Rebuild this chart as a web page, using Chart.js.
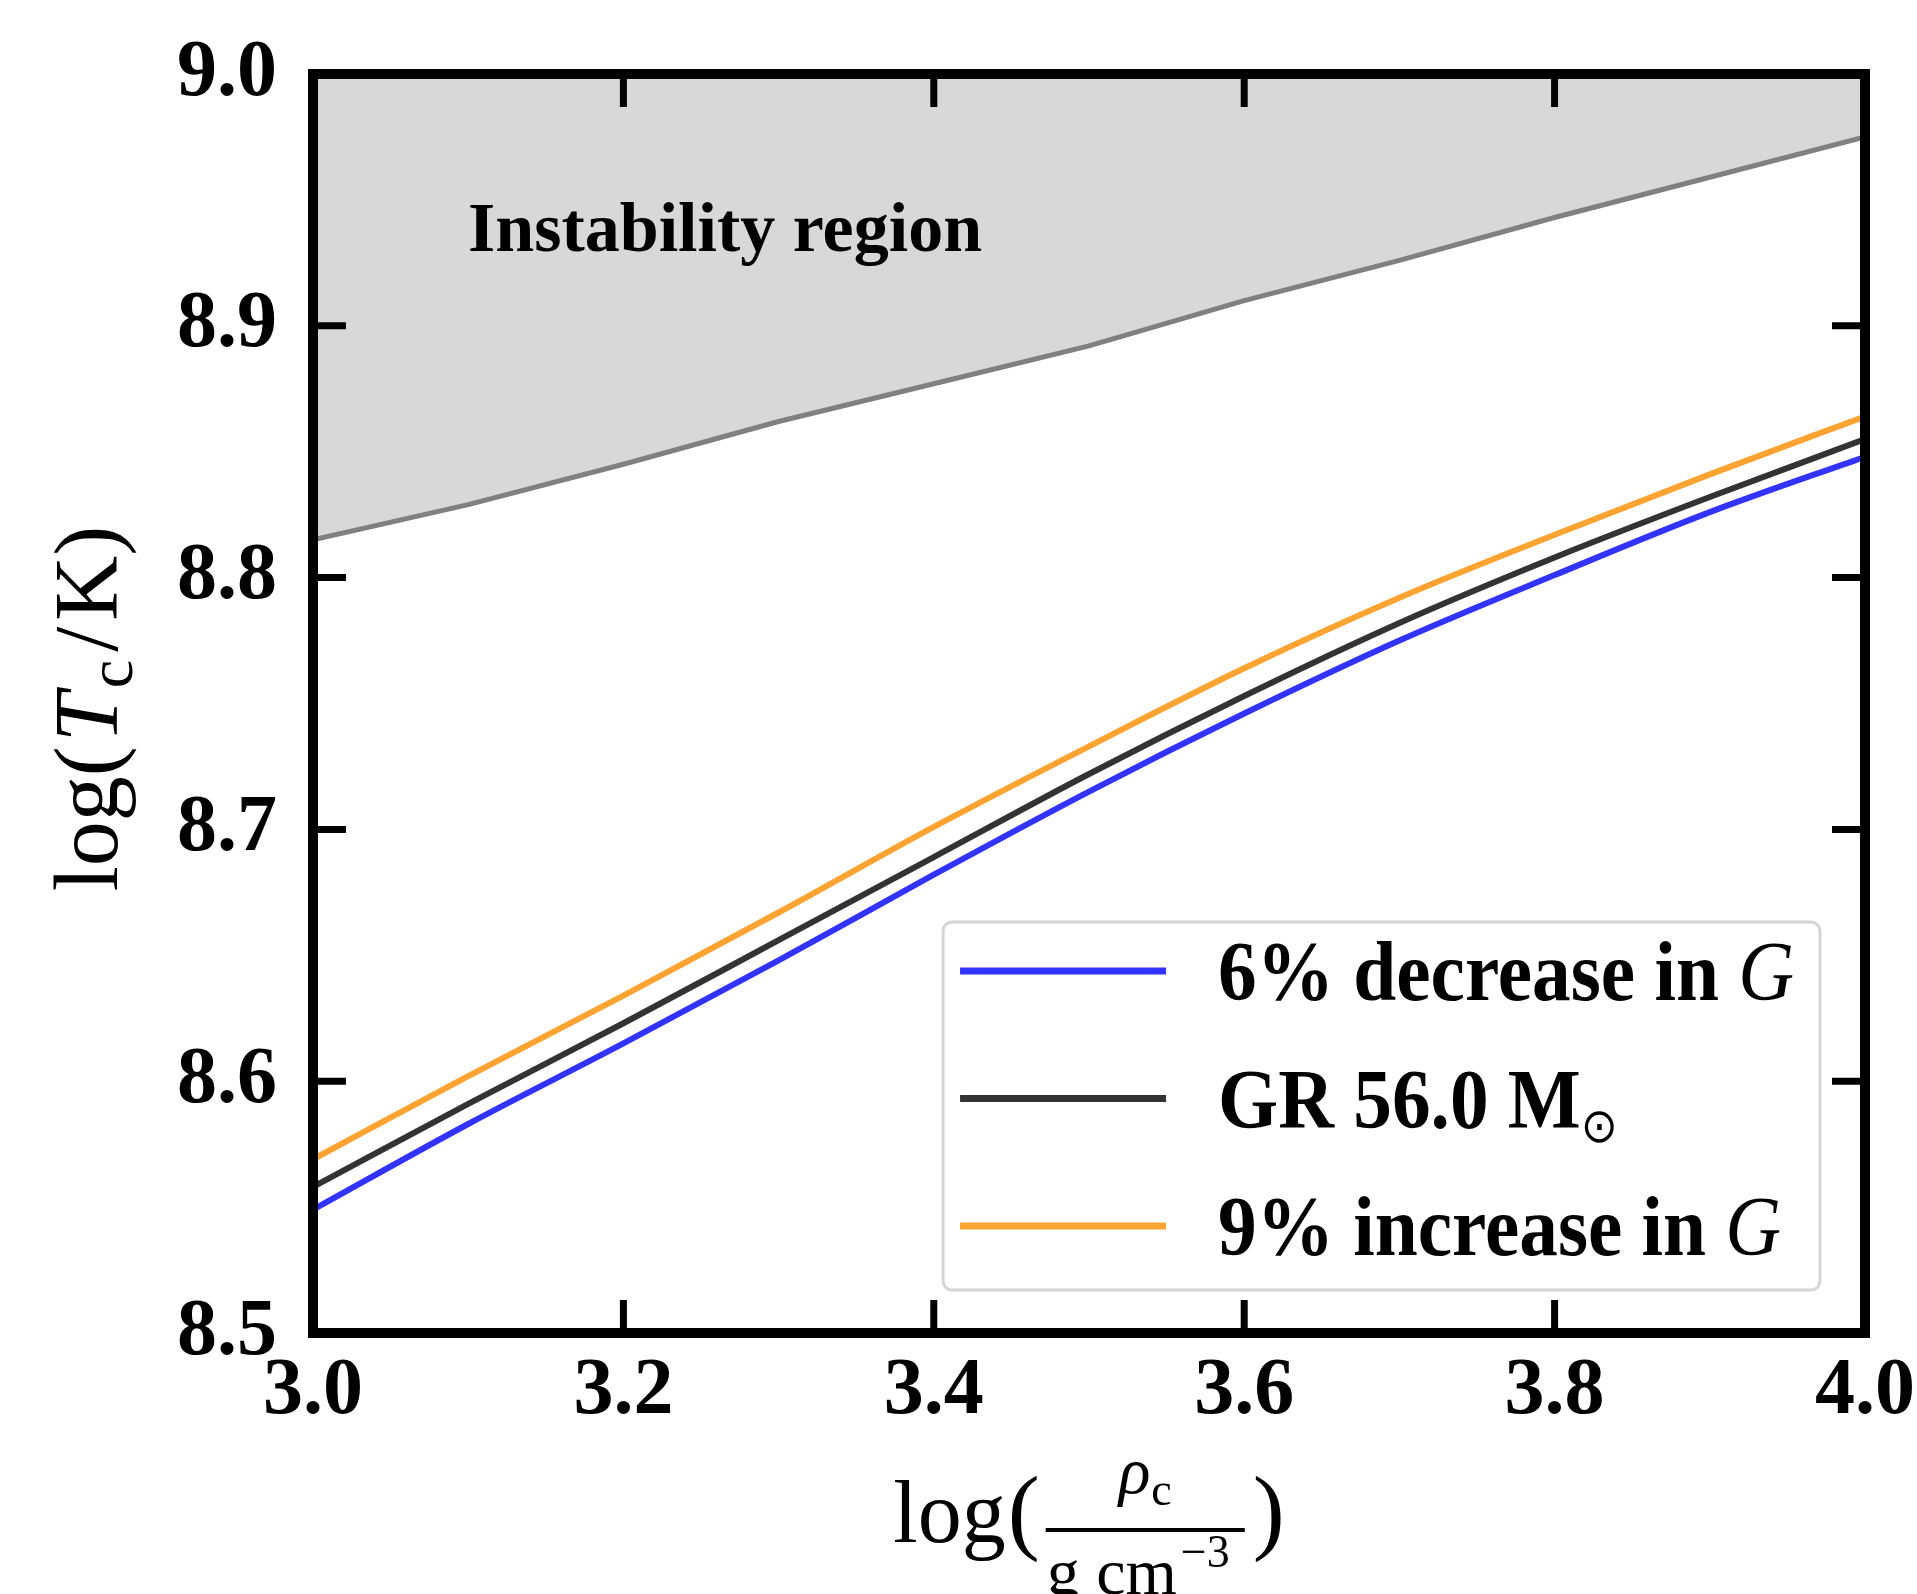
<!DOCTYPE html>
<html>
<head>
<meta charset="utf-8">
<script src="https://cdn.jsdelivr.net/npm/chart.js@4/dist/chart.umd.min.js"></script>
<style>
  html, body { margin: 0; padding: 0; background: #fff; }
  canvas { display: block; }
</style>
</head>
<body>
<canvas id="tcChart" width="1917" height="1594"></canvas>
<script>
// axis ticks
var rhoTicks = [3.0, 3.2, 3.4, 3.6, 3.8, 4.0];
var tempTicks = [8.5, 8.6, 8.7, 8.8, 8.9, 9.0];

// log(rho_c) grid shared by all tracks
var logRho = [3.0, 3.1, 3.2, 3.3, 3.4, 3.5, 3.6, 3.7, 3.8, 3.9, 4.0];

// log(T_c) along each evolutionary track
var tcDecreaseG = [8.549, 8.583, 8.615, 8.648, 8.682, 8.715, 8.746, 8.775, 8.801, 8.826, 8.848];
var tcGR        = [8.558, 8.591, 8.623, 8.656, 8.689, 8.722, 8.753, 8.782, 8.808, 8.832, 8.855];
var tcIncreaseG = [8.569, 8.602, 8.634, 8.667, 8.701, 8.733, 8.764, 8.792, 8.817, 8.841, 8.864];

// lower edge of the pair-instability zone
var tcInstability = [8.815, 8.829, 8.845, 8.862, 8.877, 8.892, 8.910, 8.926, 8.943, 8.959, 8.975];

var trackLabels = ['6% decrease in G', 'GR 56.0 M\u2299', '9% increase in G'];
var regionLabel = 'Instability region';

var SERIF = "'Liberation Serif', 'Times New Roman', serif";

function points(ys) {
  return logRho.map(function (x, i) { return { x: x, y: ys[i] }; });
}

function drawRuns(ctx, runs, x, y) {
  runs.forEach(function (r) {
    ctx.font = r.font;
    ctx.fillText(r.text, x, y + (r.dy || 0));
    x += ctx.measureText(r.text).width + (r.gap || 0);
  });
  return x;
}

function runsWidth(ctx, runs) {
  var w = 0;
  runs.forEach(function (r) {
    ctx.font = r.font;
    w += ctx.measureText(r.text).width + (r.gap || 0);
  });
  return w;
}

// legend label -> styled pieces (italic G, subscript sun symbol)
function labelRuns(label) {
  var bold = 'bold 84px ' + SERIF;
  if (label.slice(-1) === 'G') {
    return [{ text: label.slice(0, -1), font: bold }, { text: 'G', font: 'italic 84px ' + SERIF }];
  }
  var k = label.indexOf('\u2299');
  if (k >= 0) {
    return [{ text: label.slice(0, k), font: bold }, { text: '\u2299', font: "48px 'DejaVu Sans', sans-serif", dy: 14 }];
  }
  return [{ text: label, font: bold }];
}

var decorations = {
  id: 'decorations',
  afterDatasetsDraw: function (chart) {
    var ctx = chart.ctx, a = chart.chartArea;
    var xs = chart.scales.x, ys = chart.scales.y;
    ctx.save();
    ctx.fillStyle = '#000';
    ctx.textAlign = 'left';
    ctx.textBaseline = 'alphabetic';

    // region annotation
    ctx.font = 'bold 70px ' + SERIF;
    ctx.fillText(regionLabel, a.left + 155, a.top + 177);

    // legend box; text is slightly condensed horizontally
    var squeeze = 0.92;
    var rows = chart.data.datasets.filter(function (d) { return d.inLegend; });
    var handle = 206, gapL = 17, gapT = 52, padR = 26;
    var maxW = 0;
    rows.forEach(function (d) { maxW = Math.max(maxW, runsWidth(ctx, labelRuns(d.label)) * squeeze); });
    var bRight = a.right - 45, bBottom = a.bottom - 43, bTop = bBottom - 368;
    var bLeft = bRight - (gapL + handle + gapT + maxW + padR);
    ctx.beginPath();
    ctx.roundRect(bLeft, bTop, bRight - bLeft, bBottom - bTop, 9);
    ctx.fillStyle = 'rgba(255,255,255,0.8)';
    ctx.fill();
    ctx.lineWidth = 3;
    ctx.strokeStyle = '#d6d6d6';
    ctx.stroke();
    rows.forEach(function (d, i) {
      var ry = bTop + 49 + i * 127.5;
      ctx.beginPath();
      ctx.moveTo(bLeft + gapL, ry);
      ctx.lineTo(bLeft + gapL + handle, ry);
      ctx.lineWidth = 7;
      ctx.strokeStyle = d.borderColor;
      ctx.stroke();
      ctx.fillStyle = '#000';
      ctx.save();
      ctx.translate(bLeft + gapL + handle + gapT, ry + 29);
      ctx.scale(squeeze, 1);
      drawRuns(ctx, labelRuns(d.label), 0, 0);
      ctx.restore();
    });

    // frame
    ctx.lineWidth = 10;
    ctx.lineJoin = 'miter';
    ctx.strokeStyle = '#000';
    ctx.strokeRect(a.left, a.top, a.right - a.left, a.bottom - a.top);

    // inward ticks on all four sides
    var tl = 33;
    ctx.lineWidth = 7;
    ctx.beginPath();
    xs.ticks.forEach(function (t) {
      var px = xs.getPixelForValue(t.value);
      ctx.moveTo(px, a.bottom); ctx.lineTo(px, a.bottom - tl);
      ctx.moveTo(px, a.top); ctx.lineTo(px, a.top + tl);
    });
    ys.ticks.forEach(function (t) {
      var py = ys.getPixelForValue(t.value);
      ctx.moveTo(a.left, py); ctx.lineTo(a.left + tl, py);
      ctx.moveTo(a.right, py); ctx.lineTo(a.right - tl, py);
    });
    ctx.stroke();

    // y title: log(T_c/K)
    var yRuns = [
      { text: 'log(', font: '90px ' + SERIF, gap: 4 },
      { text: 'T', font: 'italic 90px ' + SERIF, gap: 4 },
      { text: 'c', font: '64px ' + SERIF, dy: 15, gap: 8 },
      { text: '/', font: '90px ' + SERIF, gap: 6 },
      { text: 'K)', font: '90px ' + SERIF }
    ];
    ctx.save();
    ctx.translate(117, (a.top + a.bottom) / 2 + 5);
    ctx.rotate(-Math.PI / 2);
    drawRuns(ctx, yRuns, -runsWidth(ctx, yRuns) / 2, 0);
    ctx.restore();

    // x title: log(rho_c / g cm^-3)
    var by = a.bottom + 209;
    var num = [
      { text: '\u03c1', font: 'italic 66px ' + SERIF, gap: 1 },
      { text: 'c', font: '46px ' + SERIF, dy: 12 }
    ];
    var den = [
      { text: 'g cm', font: '66px ' + SERIF, gap: 4 },
      { text: '\u22123', font: '46px ' + SERIF, dy: -27 }
    ];
    var barW = Math.max(runsWidth(ctx, num), runsWidth(ctx, den)) + 16;
    ctx.font = '88px ' + SERIF;
    var wLog = ctx.measureText('log').width;
    ctx.font = '96px ' + SERIF;
    var wPar = ctx.measureText('(').width;
    var total = wLog + 2 + wPar + 6 + barW + 8 + wPar;
    var x0 = (a.left + a.right) / 2 - total / 2;
    ctx.font = '88px ' + SERIF;
    ctx.fillText('log', x0, by);
    var xp = x0 + wLog + 2;
    ctx.font = '96px ' + SERIF;
    ctx.fillText('(', xp, by);
    var xb = xp + wPar + 6;
    ctx.fillRect(xb, by - 14, barW, 4);
    drawRuns(ctx, num, xb + (barW - runsWidth(ctx, num)) / 2, by - 49);
    drawRuns(ctx, den, xb + 1, by + 52);
    ctx.font = '96px ' + SERIF;
    ctx.fillText(')', xb + barW + 8, by);

    ctx.restore();
  }
};

var tickFont = { family: SERIF, size: 80, weight: 'bold', lineHeight: 1 };

new Chart(document.getElementById('tcChart'), {
  type: 'line',
  data: {
    datasets: [
      {
        label: 'instability boundary',
        data: points(tcInstability),
        borderColor: '#808080',
        backgroundColor: '#d8d8d8',
        borderWidth: 5,
        fill: 'end',
        tension: 0,
        pointRadius: 0
      },
      {
        label: trackLabels[0],
        inLegend: true,
        data: points(tcDecreaseG),
        borderColor: '#3333ff',
        borderWidth: 6,
        cubicInterpolationMode: 'monotone',
        fill: false,
        pointRadius: 0
      },
      {
        label: trackLabels[1],
        inLegend: true,
        data: points(tcGR),
        borderColor: '#333333',
        borderWidth: 6,
        cubicInterpolationMode: 'monotone',
        fill: false,
        pointRadius: 0
      },
      {
        label: trackLabels[2],
        inLegend: true,
        data: points(tcIncreaseG),
        borderColor: '#ffa333',
        borderWidth: 6,
        cubicInterpolationMode: 'monotone',
        fill: false,
        pointRadius: 0
      }
    ]
  },
  options: {
    responsive: false,
    devicePixelRatio: 1,
    animation: false,
    layout: { padding: { top: 74, right: 52, left: 0, bottom: 0 } },
    plugins: {
      legend: { display: false },
      tooltip: { enabled: false }
    },
    scales: {
      x: {
        type: 'linear',
        min: 3.0,
        max: 4.0,
        afterBuildTicks: function (s) { s.ticks = rhoTicks.map(function (v) { return { value: v }; }); },
        afterFit: function (s) { s.height = 261; s.paddingLeft = 0; s.paddingRight = 0; },
        grid: { display: false, drawTicks: false },
        border: { display: false },
        ticks: {
          font: tickFont,
          color: '#000',
          padding: 19,
          maxRotation: 0,
          minRotation: 0,
          autoSkip: false,
          callback: function (v) { return Number(v).toFixed(1); }
        }
      },
      y: {
        type: 'linear',
        min: 8.5,
        max: 9.0,
        afterBuildTicks: function (s) { s.ticks = tempTicks.map(function (v) { return { value: v }; }); },
        afterFit: function (s) { s.width = 313; s.paddingTop = 0; s.paddingBottom = 0; },
        grid: { display: false, drawTicks: false },
        border: { display: false },
        ticks: {
          font: tickFont,
          color: '#000',
          padding: 36,
          autoSkip: false,
          callback: function (v) { return Number(v).toFixed(1); }
        }
      }
    }
  },
  plugins: [decorations]
});
</script>
</body>
</html>
